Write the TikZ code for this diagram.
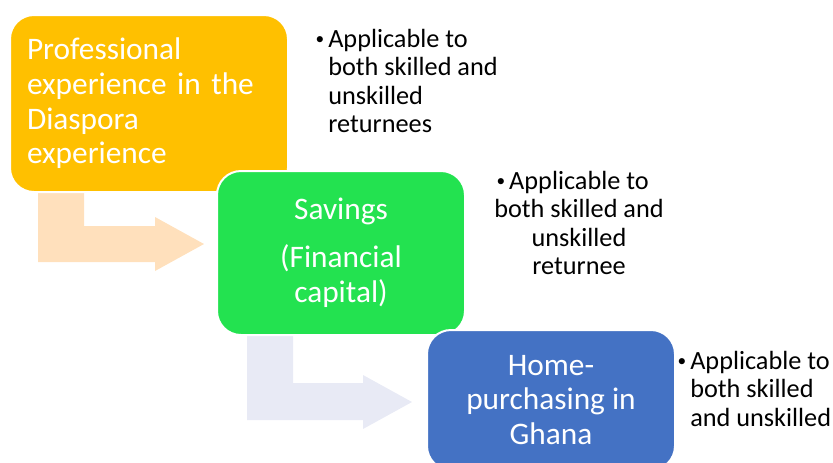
\documentclass[tikz,border=0pt]{standalone}
\usepackage{fontspec}
\setmainfont{Carlito}

\definecolor{boxorange}{RGB}{255,192,0}
\definecolor{boxgreen}{RGB}{35,226,80}
\definecolor{boxblue}{RGB}{68,114,196}
\definecolor{arrowpeach}{RGB}{255,224,188}
\definecolor{arrowgrey}{RGB}{232,234,245}

\newcommand{\notebullet}{\llap{\raisebox{2.2pt}{\fontsize{13}{13}\selectfont\textbullet}\hspace{3pt}}}

\tikzset{
    stepbox/.style={draw=white, line width=1.5pt, rounded corners=18pt, text=white,
        inner sep=0pt, font=\fontsize{23.5}{26}\selectfont},
    note/.style={inner sep=0pt, text=black, font=\fontsize{19.7}{21.3}\selectfont}
}

\begin{document}
\begin{tikzpicture}[x=0.75pt, y=-0.75pt]
    \useasboundingbox (0,0) rectangle (833,462);

    % bent arrows behind the boxes
    \fill[arrowpeach] (38,180) -- (84,180) -- (84,226) -- (155,226) -- (155,217) -- (204,244)
        -- (155,271) -- (155,262) -- (38,262) -- cycle;
    \fill[arrowgrey] (247,325) -- (293,325) -- (293,383) -- (363,383) -- (363,375) -- (412,402)
        -- (363,429) -- (363,420) -- (247,420) -- cycle;

    % the three steps
    \node[stepbox, fill=boxorange, minimum width=208.5pt, minimum height=132.75pt,
        align=left, text width=183pt] (prof) at (149,103.5)
        {Professional\\experience in the\\Diaspora\\experience};
    \node[stepbox, fill=boxgreen, minimum width=186pt, minimum height=123pt,
        align=center] (sav) at (341,253)
        {Savings\\[10pt](Financial\\capital)};
    \node[stepbox, fill=boxblue, minimum width=186pt, minimum height=105pt,
        align=center] (home) at (551,400)
        {Home-\\purchasing in\\Ghana};

    % notes beside each step
    \node[note, anchor=north west, align=left] (note1) at (328,29)
        {\notebullet Applicable to\\both skilled and\\unskilled\\returnees};
    \node[note, anchor=north, align=center] (note2) at (579,171)
        {\notebullet Applicable to\\both skilled and\\unskilled\\returnee};
    \node[note, anchor=north west, align=left] (note3) at (690,351)
        {\notebullet Applicable to\\both skilled\\and unskilled};
\end{tikzpicture}
\end{document}
